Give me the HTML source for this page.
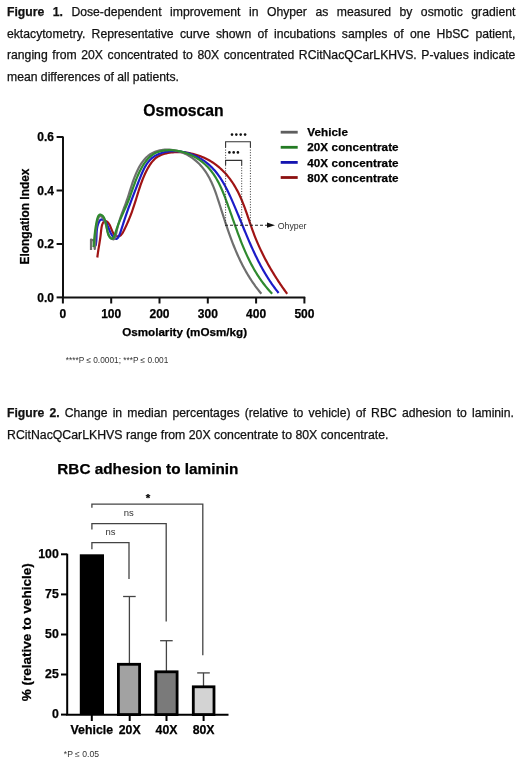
<!DOCTYPE html>
<html><head><meta charset="utf-8">
<style>
html,body{margin:0;padding:0;background:#fff;}
body{will-change:transform;}
body{width:520px;height:762px;position:relative;overflow:hidden;font-family:"Liberation Sans",sans-serif;color:#111;}
.ln{-webkit-text-stroke:0.25px #111;}
.ln{position:absolute;left:7px;width:508.4px;font-size:12.2px;line-height:14px;white-space:nowrap;}
.j{text-align:justify;text-align-last:justify;white-space:normal;}
b{font-weight:bold;}
svg{position:absolute;left:0;top:0;}
svg text{font-family:"Liberation Sans",sans-serif;fill:#000;stroke:#000;stroke-width:0.25px;}
svg text.oh,svg text.fn,svg text.ns{stroke:none;}
.tk{font-weight:bold;font-size:12px;}
.tk2{font-weight:bold;font-size:12.3px;}
.ax{font-weight:bold;font-size:11.9px;}
.ax2{font-weight:bold;font-size:13.5px;}
.ti{font-weight:bold;font-size:15.7px;}
.ti2{font-weight:bold;font-size:15.3px;}
.lg{font-weight:bold;font-size:11.7px;letter-spacing:0.08px;}
.oh{font-size:8.8px;fill:#333;}
.fn{font-size:8.3px;fill:#333;}
.ns{font-size:9.5px;fill:#333;}
.st{font-weight:bold;font-size:11.5px;}
</style></head><body>
<div class="ln j" style="top:4.7px"><b>Figure 1.</b> Dose-dependent improvement in Ohyper as measured by osmotic gradient</div>
<div class="ln j" style="top:26.5px">ektacytometry. Representative curve shown of incubations samples of one HbSC patient,</div>
<div class="ln j" style="top:47.9px">ranging from 20X concentrated to 80X concentrated RCitNacQCarLKHVS. P-values indicate</div>
<div class="ln" style="top:69.8px">mean differences of all patients.</div>
<div class="ln j" style="top:405.8px;width:507px"><b>Figure 2.</b> Change in median percentages (relative to vehicle) of RBC adhesion to laminin.</div>
<div class="ln" style="top:427.8px;font-size:12.3px">RCitNacQCarLKHVS range from 20X concentrate to 80X concentrate.</div>
<svg width="520" height="762" viewBox="0 0 520 762">
<path d="M97.30,257.50 L97.52,255.75 L97.75,254.04 L97.99,252.39 L98.23,250.77 L98.48,249.18 L98.74,247.61 L98.99,246.06 L99.25,244.51 L99.50,242.97 L99.75,241.41 L99.99,239.83 L100.23,238.23 L100.45,236.60 L100.67,234.93 L100.87,233.20 L101.05,231.42 L101.24,229.60 L101.48,227.78 L101.82,226.03 L102.29,224.39 L102.96,222.91 L103.83,221.73 L104.85,221.08 L105.98,221.13 L107.14,221.77 L108.25,222.87 L109.25,224.27 L110.10,225.87 L110.84,227.57 L111.52,229.32 L112.21,231.02 L112.95,232.62 L113.81,234.03 L114.83,235.19 L116.06,236.01 L117.43,236.43 L118.78,236.37 L120.00,235.81 L121.11,234.84 L122.12,233.56 L123.06,232.06 L123.93,230.44 L124.76,228.77 L125.55,227.13 L126.31,225.50 L127.05,223.90 L127.75,222.31 L128.42,220.74 L129.07,219.18 L129.70,217.63 L130.31,216.09 L130.89,214.56 L131.46,213.03 L132.01,211.52 L132.54,210.00 L133.07,208.48 L133.58,206.97 L134.08,205.45 L134.57,203.93 L135.06,202.40 L135.54,200.87 L136.02,199.32 L136.50,197.77 L136.98,196.21 L137.46,194.65 L137.95,193.08 L138.44,191.50 L138.94,189.93 L139.46,188.35 L139.98,186.78 L140.52,185.20 L141.07,183.63 L141.64,182.06 L142.22,180.50 L142.83,178.94 L143.46,177.39 L144.12,175.85 L144.80,174.31 L145.51,172.79 L146.25,171.28 L147.02,169.79 L147.82,168.31 L148.66,166.84 L149.55,165.41 L150.47,164.01 L151.44,162.66 L152.47,161.37 L153.56,160.15 L154.71,159.01 L155.93,157.95 L157.22,157.01 L158.59,156.16 L160.03,155.42 L161.52,154.78 L163.06,154.22 L164.65,153.75 L166.26,153.35 L167.91,153.01 L169.57,152.74 L171.23,152.51 L172.90,152.34 L174.57,152.21 L176.24,152.13 L177.91,152.10 L179.57,152.11 L181.24,152.17 L182.90,152.28 L184.55,152.43 L186.20,152.62 L187.84,152.86 L189.48,153.14 L191.10,153.47 L192.72,153.83 L194.32,154.24 L195.91,154.69 L197.49,155.18 L199.06,155.72 L200.61,156.29 L202.14,156.90 L203.66,157.55 L205.16,158.24 L206.64,158.97 L208.10,159.73 L209.54,160.53 L210.95,161.37 L212.35,162.25 L213.72,163.16 L215.06,164.11 L216.38,165.09 L217.67,166.10 L218.94,167.15 L220.18,168.23 L221.39,169.34 L222.57,170.48 L223.73,171.65 L224.86,172.84 L225.97,174.07 L227.04,175.31 L228.09,176.58 L229.12,177.88 L230.12,179.19 L231.09,180.53 L232.03,181.88 L232.95,183.26 L233.84,184.65 L234.70,186.05 L235.54,187.47 L236.34,188.91 L237.13,190.35 L237.89,191.81 L238.62,193.28 L239.34,194.76 L240.03,196.26 L240.70,197.76 L241.36,199.27 L242.00,200.79 L242.62,202.31 L243.23,203.85 L243.83,205.39 L244.41,206.93 L244.98,208.48 L245.54,210.04 L246.10,211.60 L246.65,213.16 L247.19,214.72 L247.73,216.29 L248.26,217.86 L248.80,219.43 L249.33,221.00 L249.87,222.56 L250.40,224.13 L250.94,225.70 L251.48,227.26 L252.03,228.82 L252.59,230.38 L253.16,231.93 L253.73,233.48 L254.32,235.02 L254.91,236.55 L255.52,238.08 L256.14,239.60 L256.77,241.12 L257.41,242.64 L258.06,244.14 L258.73,245.64 L259.40,247.14 L260.09,248.63 L260.78,250.11 L261.49,251.59 L262.20,253.07 L262.93,254.54 L263.67,256.00 L264.41,257.46 L265.17,258.92 L265.94,260.36 L266.72,261.81 L267.50,263.25 L268.30,264.68 L269.11,266.11 L269.92,267.54 L270.75,268.96 L271.58,270.37 L272.43,271.79 L273.28,273.19 L274.15,274.60 L275.02,275.99 L275.90,277.39 L276.79,278.78 L277.69,280.16 L278.60,281.54 L279.52,282.92 L280.44,284.30 L281.38,285.67 L282.32,287.03 L283.27,288.39 L284.23,289.75 L285.20,291.11 L286.17,292.46 L287.16,293.80" fill="none" stroke="#a01414" stroke-width="2.2" stroke-linejoin="round" stroke-linecap="butt"/>
<path d="M95.50,245.99 L95.83,244.49 L96.07,242.95 L96.24,241.38 L96.35,239.77 L96.42,238.15 L96.48,236.50 L96.53,234.83 L96.61,233.16 L96.71,231.49 L96.87,229.81 L97.10,228.14 L97.42,226.49 L97.85,224.85 L98.40,223.23 L99.10,221.69 L99.94,220.42 L100.94,219.63 L102.08,219.46 L103.25,219.82 L104.30,220.52 L105.24,221.49 L106.07,222.70 L106.83,224.09 L107.55,225.63 L108.24,227.28 L108.94,228.99 L109.67,230.74 L110.46,232.47 L111.32,234.15 L112.27,235.72 L113.27,237.07 L114.29,238.13 L115.30,238.79 L116.27,238.97 L117.17,238.58 L117.99,237.67 L118.75,236.37 L119.45,234.79 L120.10,233.06 L120.72,231.30 L121.29,229.59 L121.84,227.93 L122.37,226.32 L122.88,224.74 L123.38,223.19 L123.87,221.66 L124.36,220.15 L124.85,218.65 L125.35,217.15 L125.86,215.66 L126.37,214.17 L126.89,212.68 L127.41,211.19 L127.94,209.71 L128.47,208.22 L129.01,206.74 L129.56,205.26 L130.11,203.78 L130.66,202.29 L131.22,200.81 L131.78,199.32 L132.35,197.83 L132.91,196.34 L133.49,194.85 L134.06,193.35 L134.64,191.85 L135.23,190.35 L135.81,188.84 L136.40,187.32 L136.99,185.80 L137.58,184.27 L138.18,182.74 L138.78,181.20 L139.37,179.65 L139.98,178.10 L140.59,176.55 L141.21,175.00 L141.85,173.47 L142.51,171.94 L143.20,170.44 L143.91,168.97 L144.66,167.53 L145.45,166.12 L146.29,164.75 L147.17,163.43 L148.10,162.16 L149.09,160.95 L150.14,159.80 L151.26,158.71 L152.44,157.70 L153.70,156.76 L155.03,155.90 L156.42,155.12 L157.86,154.41 L159.35,153.78 L160.88,153.21 L162.43,152.72 L164.01,152.29 L165.59,151.93 L167.18,151.64 L168.78,151.41 L170.39,151.24 L172.00,151.13 L173.62,151.08 L175.23,151.09 L176.85,151.16 L178.46,151.29 L180.07,151.47 L181.68,151.71 L183.28,151.99 L184.87,152.33 L186.45,152.73 L188.02,153.17 L189.58,153.66 L191.12,154.19 L192.65,154.77 L194.16,155.40 L195.65,156.07 L197.12,156.79 L198.57,157.54 L199.99,158.34 L201.39,159.17 L202.77,160.04 L204.11,160.95 L205.42,161.89 L206.71,162.87 L207.96,163.88 L209.17,164.93 L210.35,166.00 L211.49,167.10 L212.61,168.24 L213.69,169.40 L214.74,170.58 L215.76,171.79 L216.75,173.03 L217.72,174.29 L218.66,175.57 L219.57,176.87 L220.46,178.19 L221.33,179.53 L222.17,180.89 L223.00,182.27 L223.80,183.66 L224.59,185.06 L225.36,186.48 L226.11,187.90 L226.85,189.34 L227.57,190.79 L228.28,192.25 L228.98,193.72 L229.67,195.19 L230.34,196.67 L231.01,198.15 L231.68,199.63 L232.33,201.12 L232.98,202.61 L233.63,204.10 L234.27,205.59 L234.90,207.08 L235.54,208.57 L236.16,210.07 L236.79,211.56 L237.41,213.05 L238.03,214.55 L238.65,216.04 L239.26,217.54 L239.87,219.03 L240.49,220.52 L241.10,222.02 L241.71,223.51 L242.32,225.00 L242.93,226.49 L243.54,227.98 L244.15,229.47 L244.77,230.96 L245.38,232.45 L246.00,233.93 L246.62,235.41 L247.24,236.89 L247.87,238.37 L248.50,239.85 L249.13,241.32 L249.77,242.79 L250.41,244.26 L251.06,245.73 L251.71,247.19 L252.37,248.66 L253.03,250.11 L253.71,251.57 L254.38,253.02 L255.07,254.47 L255.76,255.91 L256.46,257.35 L257.17,258.78 L257.89,260.22 L258.61,261.64 L259.35,263.07 L260.09,264.48 L260.85,265.90 L261.61,267.31 L262.39,268.71 L263.18,270.11 L263.97,271.50 L264.78,272.89 L265.61,274.27 L266.44,275.65 L267.29,277.02 L268.15,278.39 L269.03,279.75 L269.92,281.10 L270.82,282.44 L271.74,283.78 L272.67,285.12 L273.62,286.44 L274.59,287.76 L275.57,289.07 L276.57,290.38 L277.58,291.68 L278.61,292.97" fill="none" stroke="#1c1cc8" stroke-width="2.2" stroke-linejoin="round" stroke-linecap="butt"/>
<path d="M91.00,250.00 L91.00,239.50 L93.50,240.50 L94.80,249.00 L95.31,242.00 L95.22,241.95 L95.17,241.37 L95.17,240.34 L95.20,238.93 L95.28,237.19 L95.41,235.21 L95.58,233.04 L95.81,230.75 L96.08,228.41 L96.41,226.08 L96.78,223.84 L97.22,221.75 L97.70,219.87 L98.25,218.27 L98.86,217.03 L99.52,216.20 L100.25,215.85 L101.04,216.02 L101.86,216.66 L102.70,217.68 L103.53,219.02 L104.33,220.60 L105.06,222.34 L105.72,224.17 L106.27,226.01 L106.71,227.82 L107.09,229.56 L107.46,231.24 L107.87,232.83 L108.36,234.32 L108.98,235.71 L109.79,236.96 L110.81,238.07 L111.97,238.92 L113.10,239.32 L114.04,239.11 L114.76,238.32 L115.32,237.08 L115.76,235.52 L116.14,233.76 L116.49,231.93 L116.87,230.13 L117.27,228.38 L117.69,226.68 L118.14,225.01 L118.60,223.38 L119.08,221.79 L119.57,220.22 L120.08,218.69 L120.60,217.17 L121.13,215.68 L121.66,214.21 L122.21,212.75 L122.75,211.30 L123.30,209.86 L123.85,208.42 L124.39,206.99 L124.94,205.55 L125.48,204.11 L126.01,202.66 L126.53,201.20 L127.04,199.73 L127.54,198.24 L128.04,196.74 L128.53,195.23 L129.01,193.71 L129.50,192.18 L129.98,190.65 L130.47,189.11 L130.96,187.57 L131.45,186.03 L131.96,184.49 L132.47,182.95 L133.00,181.42 L133.54,179.89 L134.10,178.36 L134.68,176.85 L135.28,175.35 L135.90,173.86 L136.55,172.38 L137.22,170.92 L137.92,169.47 L138.65,168.05 L139.42,166.64 L140.22,165.26 L141.06,163.92 L141.94,162.60 L142.86,161.33 L143.83,160.10 L144.85,158.92 L145.92,157.79 L147.04,156.72 L148.22,155.72 L149.46,154.78 L150.76,153.92 L152.13,153.13 L153.56,152.42 L155.05,151.80 L156.60,151.25 L158.18,150.79 L159.80,150.41 L161.44,150.10 L163.08,149.87 L164.72,149.71 L166.36,149.63 L167.98,149.62 L169.60,149.68 L171.20,149.80 L172.79,149.99 L174.37,150.24 L175.93,150.56 L177.48,150.94 L179.01,151.38 L180.52,151.87 L182.01,152.42 L183.48,153.02 L184.93,153.68 L186.36,154.38 L187.77,155.14 L189.14,155.94 L190.50,156.79 L191.82,157.68 L193.12,158.61 L194.38,159.58 L195.62,160.59 L196.82,161.63 L198.00,162.71 L199.13,163.83 L200.23,164.97 L201.30,166.15 L202.32,167.35 L203.31,168.58 L204.26,169.83 L205.18,171.11 L206.06,172.41 L206.91,173.74 L207.73,175.08 L208.51,176.44 L209.27,177.82 L210.00,179.22 L210.70,180.64 L211.38,182.07 L212.04,183.52 L212.68,184.98 L213.29,186.45 L213.89,187.94 L214.47,189.43 L215.04,190.93 L215.59,192.45 L216.13,193.97 L216.65,195.49 L217.17,197.02 L217.68,198.56 L218.18,200.09 L218.68,201.63 L219.18,203.17 L219.67,204.71 L220.16,206.25 L220.65,207.79 L221.14,209.32 L221.62,210.86 L222.11,212.39 L222.60,213.92 L223.10,215.45 L223.59,216.98 L224.08,218.50 L224.58,220.03 L225.08,221.55 L225.58,223.07 L226.08,224.58 L226.59,226.10 L227.10,227.61 L227.62,229.12 L228.13,230.62 L228.66,232.13 L229.19,233.63 L229.72,235.12 L230.26,236.62 L230.81,238.11 L231.36,239.59 L231.92,241.08 L232.48,242.56 L233.06,244.03 L233.64,245.50 L234.23,246.97 L234.82,248.43 L235.43,249.89 L236.04,251.35 L236.67,252.80 L237.30,254.25 L237.95,255.69 L238.60,257.12 L239.26,258.56 L239.94,259.98 L240.63,261.41 L241.32,262.82 L242.03,264.24 L242.76,265.64 L243.49,267.04 L244.24,268.44 L245.00,269.83 L245.78,271.21 L246.56,272.59 L247.37,273.97 L248.19,275.33 L249.02,276.69 L249.87,278.05 L250.73,279.40 L251.61,280.74 L252.51,282.07 L253.42,283.40 L254.35,284.72 L255.29,286.04 L256.26,287.34 L257.24,288.65 L258.24,289.94 L259.26,291.23 L260.30,292.50 L261.35,293.78" fill="none" stroke="#6f6f6f" stroke-width="2.2" stroke-linejoin="round" stroke-linecap="butt"/>
<path d="M93.50,246.99 L93.67,245.17 L93.84,243.43 L93.99,241.77 L94.13,240.17 L94.27,238.61 L94.42,237.09 L94.57,235.57 L94.73,234.06 L94.91,232.53 L95.10,230.97 L95.32,229.36 L95.56,227.69 L95.84,225.95 L96.16,224.11 L96.51,222.17 L96.92,220.17 L97.41,218.26 L98.02,216.60 L98.76,215.34 L99.67,214.64 L100.77,214.62 L101.93,215.20 L102.96,216.15 L103.82,217.37 L104.52,218.81 L105.11,220.44 L105.60,222.21 L106.01,224.08 L106.39,226.01 L106.75,227.95 L107.11,229.87 L107.52,231.72 L107.98,233.45 L108.53,235.03 L109.20,236.41 L110.01,237.56 L110.94,238.37 L111.87,238.72 L112.72,238.45 L113.46,237.63 L114.12,236.37 L114.73,234.81 L115.31,233.06 L115.89,231.26 L116.47,229.49 L117.08,227.76 L117.69,226.07 L118.31,224.42 L118.95,222.80 L119.59,221.20 L120.23,219.64 L120.89,218.10 L121.54,216.58 L122.20,215.07 L122.86,213.58 L123.51,212.11 L124.17,210.64 L124.82,209.17 L125.46,207.71 L126.10,206.25 L126.72,204.79 L127.34,203.31 L127.95,201.83 L128.55,200.34 L129.13,198.83 L129.70,197.31 L130.26,195.77 L130.82,194.23 L131.37,192.68 L131.92,191.12 L132.47,189.56 L133.02,187.99 L133.58,186.42 L134.15,184.85 L134.72,183.28 L135.31,181.72 L135.91,180.15 L136.53,178.60 L137.17,177.05 L137.82,175.51 L138.50,173.97 L139.21,172.45 L139.94,170.95 L140.71,169.45 L141.50,167.98 L142.33,166.52 L143.20,165.09 L144.11,163.69 L145.06,162.33 L146.05,161.01 L147.09,159.75 L148.18,158.54 L149.32,157.40 L150.51,156.32 L151.76,155.33 L153.06,154.41 L154.43,153.59 L155.86,152.86 L157.36,152.23 L158.91,151.70 L160.50,151.26 L162.13,150.90 L163.78,150.62 L165.45,150.41 L167.12,150.28 L168.80,150.20 L170.47,150.19 L172.14,150.24 L173.81,150.36 L175.47,150.53 L177.12,150.76 L178.77,151.05 L180.41,151.39 L182.03,151.79 L183.64,152.24 L185.24,152.75 L186.82,153.30 L188.39,153.90 L189.93,154.56 L191.45,155.26 L192.96,156.00 L194.43,156.79 L195.89,157.62 L197.31,158.50 L198.71,159.41 L200.08,160.37 L201.42,161.36 L202.72,162.39 L203.99,163.45 L205.22,164.55 L206.42,165.68 L207.58,166.85 L208.69,168.04 L209.77,169.26 L210.81,170.51 L211.81,171.79 L212.77,173.09 L213.71,174.42 L214.61,175.77 L215.47,177.14 L216.31,178.54 L217.12,179.95 L217.91,181.38 L218.67,182.83 L219.40,184.29 L220.12,185.77 L220.81,187.26 L221.49,188.76 L222.15,190.28 L222.79,191.80 L223.42,193.33 L224.03,194.87 L224.64,196.42 L225.23,197.97 L225.82,199.53 L226.40,201.08 L226.98,202.64 L227.55,204.20 L228.11,205.77 L228.68,207.33 L229.23,208.89 L229.79,210.46 L230.35,212.02 L230.90,213.58 L231.45,215.15 L232.00,216.71 L232.55,218.28 L233.10,219.84 L233.64,221.40 L234.19,222.96 L234.75,224.52 L235.30,226.08 L235.86,227.64 L236.41,229.19 L236.98,230.74 L237.54,232.29 L238.11,233.84 L238.69,235.39 L239.27,236.93 L239.85,238.47 L240.44,240.00 L241.04,241.53 L241.65,243.06 L242.26,244.59 L242.88,246.11 L243.51,247.62 L244.15,249.13 L244.80,250.64 L245.45,252.14 L246.12,253.63 L246.80,255.12 L247.49,256.61 L248.19,258.09 L248.91,259.56 L249.64,261.03 L250.38,262.49 L251.13,263.94 L251.90,265.39 L252.68,266.82 L253.48,268.26 L254.30,269.68 L255.13,271.10 L255.97,272.51 L256.84,273.91 L257.72,275.30 L258.62,276.68 L259.53,278.06 L260.47,279.42 L261.43,280.78 L262.40,282.13 L263.40,283.47 L264.41,284.79 L265.45,286.11 L266.51,287.42 L267.60,288.72 L268.70,290.00 L269.83,291.28 L270.98,292.54 L272.16,293.80" fill="none" stroke="#2f8a2f" stroke-width="2.2" stroke-linejoin="round" stroke-linecap="butt"/>
<path d="M63,136.5 V297.4 H305.2" fill="none" stroke="#111" stroke-width="2"/>
<line x1="56.6" y1="137.0" x2="63" y2="137.0" stroke="#111" stroke-width="2"/>
<text x="53.9" y="141.4" text-anchor="end" class="tk">0.6</text>
<line x1="56.6" y1="190.5" x2="63" y2="190.5" stroke="#111" stroke-width="2"/>
<text x="53.9" y="194.9" text-anchor="end" class="tk">0.4</text>
<line x1="56.6" y1="244.0" x2="63" y2="244.0" stroke="#111" stroke-width="2"/>
<text x="53.9" y="248.4" text-anchor="end" class="tk">0.2</text>
<line x1="56.6" y1="297.4" x2="63" y2="297.4" stroke="#111" stroke-width="2"/>
<text x="53.9" y="301.8" text-anchor="end" class="tk">0.0</text>
<line x1="62.9" y1="297" x2="62.9" y2="303.5" stroke="#111" stroke-width="2"/>
<text x="62.9" y="317.8" text-anchor="middle" class="tk">0</text>
<line x1="111.2" y1="297" x2="111.2" y2="303.5" stroke="#111" stroke-width="2"/>
<text x="111.2" y="317.8" text-anchor="middle" class="tk">100</text>
<line x1="159.5" y1="297" x2="159.5" y2="303.5" stroke="#111" stroke-width="2"/>
<text x="159.5" y="317.8" text-anchor="middle" class="tk">200</text>
<line x1="207.8" y1="297" x2="207.8" y2="303.5" stroke="#111" stroke-width="2"/>
<text x="207.8" y="317.8" text-anchor="middle" class="tk">300</text>
<line x1="256.1" y1="297" x2="256.1" y2="303.5" stroke="#111" stroke-width="2"/>
<text x="256.1" y="317.8" text-anchor="middle" class="tk">400</text>
<line x1="304.4" y1="297" x2="304.4" y2="303.5" stroke="#111" stroke-width="2"/>
<text x="304.4" y="317.8" text-anchor="middle" class="tk">500</text>
<text x="184.6" y="336" text-anchor="middle" class="ax" style="font-size:11.65px">Osmolarity (mOsm/kg)</text>
<text transform="translate(29.3,216.5) rotate(-90)" text-anchor="middle" class="ax">Elongation Index</text>
<text x="183.4" y="116" text-anchor="middle" class="ti">Osmoscan</text>
<line x1="280.7" y1="132.2" x2="297.7" y2="132.2" stroke="#5e5e5e" stroke-width="2.8"/>
<text x="307.2" y="136.3" class="lg">Vehicle</text>
<line x1="280.7" y1="147.3" x2="297.7" y2="147.3" stroke="#237a23" stroke-width="2.8"/>
<text x="307.2" y="151.4" class="lg">20X concentrate</text>
<line x1="280.7" y1="162.4" x2="297.7" y2="162.4" stroke="#1414b0" stroke-width="2.8"/>
<text x="307.2" y="166.5" class="lg">40X concentrate</text>
<line x1="280.7" y1="177.5" x2="297.7" y2="177.5" stroke="#8c1010" stroke-width="2.8"/>
<text x="307.2" y="181.6" class="lg">80X concentrate</text>
<path d="M225.6,147 V141.8 H250.4 V147" fill="none" stroke="#333" stroke-width="1.1"/>
<path d="M225.6,165 V160.4 H241.7 V165" fill="none" stroke="#333" stroke-width="1.1"/>
<line x1="225.6" y1="147.0" x2="225.6" y2="225.2" stroke="#333" stroke-width="1" stroke-dasharray="1,1.6"/>
<line x1="241.7" y1="165.0" x2="241.7" y2="225.2" stroke="#333" stroke-width="1" stroke-dasharray="1,1.6"/>
<line x1="250.4" y1="147.0" x2="250.4" y2="225.2" stroke="#333" stroke-width="1" stroke-dasharray="1,1.6"/>
<circle cx="232.0" cy="134.6" r="1.3" fill="#111"/>
<circle cx="236.3" cy="134.6" r="1.3" fill="#111"/>
<circle cx="240.7" cy="134.6" r="1.3" fill="#111"/>
<circle cx="245.1" cy="134.6" r="1.3" fill="#111"/>
<circle cx="229.4" cy="152.4" r="1.3" fill="#111"/>
<circle cx="233.7" cy="152.4" r="1.3" fill="#111"/>
<circle cx="237.9" cy="152.4" r="1.3" fill="#111"/>
<line x1="225" y1="225.2" x2="267.5" y2="225.2" stroke="#222" stroke-width="1.1" stroke-dasharray="3,2"/>
<path d="M267,222.6 L275,225.2 L267,227.8 Z" fill="#111"/>
<text x="277.7" y="228.6" class="oh">Ohyper</text>
<text x="65.8" y="362.7" class="fn">****P ≤ 0.0001; ***P ≤ 0.001</text>
<text x="57.3" y="473.8" class="ti2">RBC adhesion to laminin</text>
<rect x="79.8" y="554.3" width="24.2" height="160.3" fill="#000"/>
<line x1="129.4" y1="663.9" x2="129.4" y2="596.5" stroke="#444" stroke-width="1.3"/>
<line x1="123.1" y1="596.5" x2="135.7" y2="596.5" stroke="#444" stroke-width="1.3"/>
<rect x="118.40" y="664.30" width="21.20" height="50.30" fill="#a2a2a2" stroke="#000" stroke-width="2.8"/>
<line x1="166.4" y1="671.4" x2="166.4" y2="640.7" stroke="#444" stroke-width="1.3"/>
<line x1="160.1" y1="640.7" x2="172.7" y2="640.7" stroke="#444" stroke-width="1.3"/>
<rect x="155.80" y="671.80" width="21.30" height="42.80" fill="#7a7a7a" stroke="#000" stroke-width="2.8"/>
<line x1="203.5" y1="686.4" x2="203.5" y2="672.9" stroke="#444" stroke-width="1.3"/>
<line x1="197.2" y1="672.9" x2="209.8" y2="672.9" stroke="#444" stroke-width="1.3"/>
<rect x="193.30" y="686.80" width="20.70" height="27.80" fill="#d3d3d3" stroke="#000" stroke-width="2.8"/>
<path d="M67.2,553.8 V714.8 H228.5" fill="none" stroke="#000" stroke-width="2"/>
<line x1="61" y1="714.6" x2="67.2" y2="714.6" stroke="#000" stroke-width="2"/>
<text x="58.8" y="718.1" text-anchor="end" class="tk2">0</text>
<line x1="61" y1="674.5" x2="67.2" y2="674.5" stroke="#000" stroke-width="2"/>
<text x="58.8" y="678.0" text-anchor="end" class="tk2">25</text>
<line x1="61" y1="634.5" x2="67.2" y2="634.5" stroke="#000" stroke-width="2"/>
<text x="58.8" y="638.0" text-anchor="end" class="tk2">50</text>
<line x1="61" y1="594.4" x2="67.2" y2="594.4" stroke="#000" stroke-width="2"/>
<text x="58.8" y="597.9" text-anchor="end" class="tk2">75</text>
<line x1="61" y1="554.3" x2="67.2" y2="554.3" stroke="#000" stroke-width="2"/>
<text x="58.8" y="557.8" text-anchor="end" class="tk2">100</text>
<line x1="91.8" y1="714" x2="91.8" y2="721" stroke="#000" stroke-width="2"/>
<text x="91.8" y="733.6" text-anchor="middle" class="tk2">Vehicle</text>
<line x1="129.7" y1="714" x2="129.7" y2="721" stroke="#000" stroke-width="2"/>
<text x="129.7" y="733.6" text-anchor="middle" class="tk2">20X</text>
<line x1="166.5" y1="714" x2="166.5" y2="721" stroke="#000" stroke-width="2"/>
<text x="166.5" y="733.6" text-anchor="middle" class="tk2">40X</text>
<line x1="203.6" y1="714" x2="203.6" y2="721" stroke="#000" stroke-width="2"/>
<text x="203.6" y="733.6" text-anchor="middle" class="tk2">80X</text>
<text transform="translate(30.9,632.3) rotate(-90)" text-anchor="middle" class="ax2">% (relative to vehicle)</text>
<path d="M91.9,549.3 V542.6 H129 V579" fill="none" stroke="#444" stroke-width="1.3"/>
<path d="M91.9,529.4 V523.7 H166.2 V621.5" fill="none" stroke="#444" stroke-width="1.3"/>
<path d="M91.9,507.8 V504.2 H202.8 V655.2" fill="none" stroke="#444" stroke-width="1.3"/>
<text x="110.4" y="535.2" text-anchor="middle" class="ns">ns</text>
<text x="128.8" y="516" text-anchor="middle" class="ns">ns</text>
<text x="148.1" y="502.3" text-anchor="middle" class="st">*</text>
<text x="63.8" y="757.3" class="fn" style="font-size:8.6px">*P ≤ 0.05</text>
</svg>
</body></html>
